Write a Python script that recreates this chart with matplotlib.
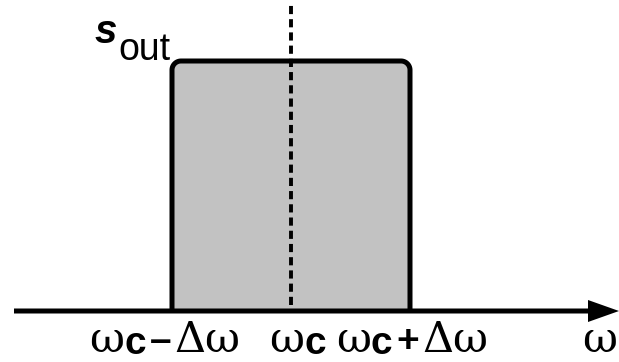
import numpy as np
import matplotlib
matplotlib.use('Agg')
import matplotlib.pyplot as plt

# output spectrum: band of width 2*delta_omega around omega_c
omega_c = 0.0
delta_omega = 1.0
level = 1.0

band_edges = [omega_c - delta_omega, omega_c + delta_omega]
tick_pos = [omega_c - delta_omega, omega_c, omega_c + delta_omega]
tick_ops = ['\u2013', None, '+']   # operator in each label (None = just omega_c)

SERIF = 'DejaVu Serif'
SANS = 'Liberation Sans'

fig = plt.figure(figsize=(6.19, 3.62), dpi=100)
ax = fig.add_axes([0, 0, 1, 1])
ax.set_xlim(-291 / 119, 328 / 119)
ax.set_ylim(-51 / 250, 311 / 250)
ax.axis('off')

# band outline with rounded top corners
lo, hi = band_edges
rx, ry = 9 / 119, 9 / 250
t = np.linspace(0, np.pi / 2, 20)
xs = np.concatenate([[lo], lo + rx - rx * np.cos(t), hi - rx + rx * np.sin(t), [hi]])
ys = np.concatenate([[0], level - ry + ry * np.sin(t), level - ry + ry * np.cos(t), [0]])

ax.fill(xs, ys, color='#c2c2c2', lw=0, zorder=1)
ax.plot(xs, ys, color='black', lw=3.6, solid_capstyle='butt', zorder=3)

# dashed line at the centre frequency
ax.plot([omega_c, omega_c], [0.024, 1.224], color='black', lw=2.8,
        dashes=(2.1, 1.3), zorder=4)

# frequency axis with arrow head
x0, x1 = ax.get_xlim()
xstart = -277 / 119
ax.arrow(xstart, 0, x1 - xstart, 0, width=5 / 250, head_width=22 / 250,
         head_length=31 / 119, length_includes_head=True, color='black',
         lw=0, zorder=5)

# tick labels, built from pieces: omega (serif), c (bold sans), op, Delta omega
base_y = -41 / 250
px = 72 / 100  # points per pixel


def first(x, dx, s, family, size, weight='normal'):
    return ax.annotate(s, xy=(x, base_y), xytext=(dx * px, 0),
                       textcoords='offset points', ha='left', va='baseline',
                       fontsize=size, family=family, weight=weight)


def after(prev, gap, dy, s, family, size, weight='normal'):
    # starts where the previous piece ends
    return ax.annotate(s, xy=(1, base_y), xycoords=(prev, 'data'),
                       xytext=(gap * px, dy * px), textcoords='offset points',
                       ha='left', va='baseline', fontsize=size,
                       family=family, weight=weight)


label_start = [-83, -22, -74]
for x, op, start in zip(tick_pos, tick_ops, label_start):
    w = first(x, start, '\u03c9', SERIF, 31)
    c = after(w, 0, -2, 'c', SANS, 28, 'bold')
    if op is not None:
        o = after(c, 4, 0, op, SANS, 28, 'bold')
        after(o, 3, 0, '\u0394\u03c9', SERIF, 31)

# axis label
first(x1, -37, '\u03c9', SERIF, 31)

# s_out label
ax.annotate('s', xy=(lo, level), xytext=(-55 * px, 18 * px),
            textcoords='offset points', ha='right', va='baseline',
            fontsize=29, family=SANS, weight='bold', style='italic')
ax.annotate('out', xy=(lo, level), xytext=(-54 * px, 1 * px),
            textcoords='offset points', ha='left', va='baseline',
            fontsize=27, family=SANS)

fig.savefig('out.png', dpi=100)
